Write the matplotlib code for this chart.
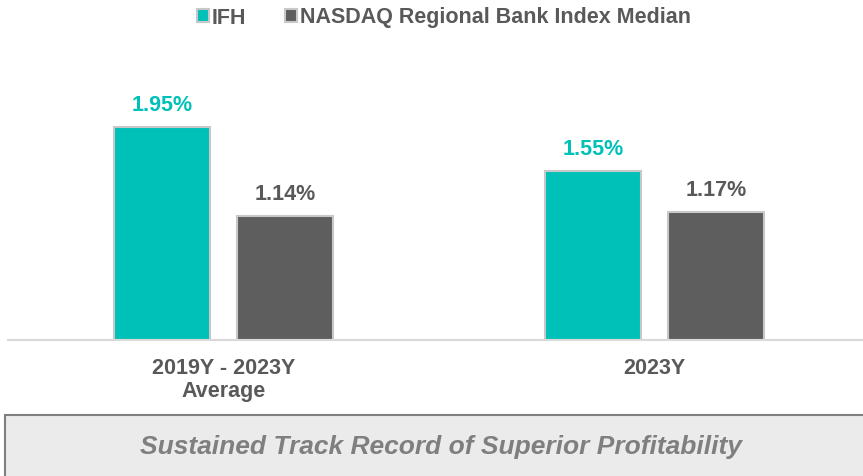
import matplotlib.pyplot as plt
import matplotlib.patches as mpatches
import numpy as np

plt.rcParams['font.family'] = ['Liberation Sans', 'DejaVu Sans']

categories = ['2019Y - 2023Y\nAverage', '2023Y']
series_names = ['IFH', 'NASDAQ Regional Bank Index Median']
ifh = [1.95, 1.55]
nasdaq = [1.14, 1.17]

TEAL = '#00C1B8'
DARK = '#5E5E5E'
TEXT = '#595959'

W, H = 863, 476
fig = plt.figure(figsize=(W / 100, H / 100), dpi=100)

# axes placed in pixel terms: baseline at y=340, left at x=8
ax = fig.add_axes([8 / W, (H - 340) / H, 862 / W, 240 / H])
x = np.arange(len(categories))
width = 0.223
off = 0.1427
b1 = ax.bar(x - off, ifh, width, color=TEAL, edgecolor='#C8C8C8', linewidth=1.5, label=series_names[0])
b2 = ax.bar(x + off, nasdaq, width, color=DARK, edgecolor='#C8C8C8', linewidth=1.5, label=series_names[1])

for bars, vals, col in [(b1, ifh, TEAL), (b2, nasdaq, TEXT)]:
    for b, v in zip(bars, vals):
        ax.annotate(f'{v:.2f}%', (b.get_x() + b.get_width() / 2, v),
                    xytext=(0, 15.5), textcoords='offset points',
                    ha='center', va='center', fontsize=15.5, fontweight='bold', color=col)

ax.set_xlim(-0.5, 1.5)
ax.set_ylim(0, 240 / 109)
ax.set_xticks(x)
ax.set_xticklabels(categories, fontsize=15.5, fontweight='bold', color=TEXT, linespacing=1.15)
ax.tick_params(axis='x', length=0, pad=13)
ax.set_yticks([])
for s in ['top', 'right', 'left']:
    ax.spines[s].set_visible(False)
ax.spines['bottom'].set_color('#D9D9D9')
ax.spines['bottom'].set_linewidth(1.5)

leg = fig.legend(handles=[b1, b2], labels=series_names, loc='center',
                 bbox_to_anchor=(444 / W, (H - 18) / H), ncol=2, frameon=False,
                 handlelength=0.55, handleheight=0.55, handletextpad=0.15, columnspacing=1.8,
                 prop={'weight': 'bold', 'size': 15.5})
for t in leg.get_texts():
    t.set_color(TEXT)

# bottom banner
box = mpatches.Rectangle((5 / W, -0.01), 1.0, (H - 415) / H + 0.01, transform=fig.transFigure,
                         facecolor='#EBEBEB', edgecolor='#7F7F7F', linewidth=1.5)
fig.patches.append(box)
fig.text(441 / W, (H - 447) / H, 'Sustained Track Record of Superior Profitability',
         ha='center', va='center', fontsize=19, fontweight='bold', fontstyle='italic', color='#7F7F7F')

fig.savefig('out.png', dpi=100)
